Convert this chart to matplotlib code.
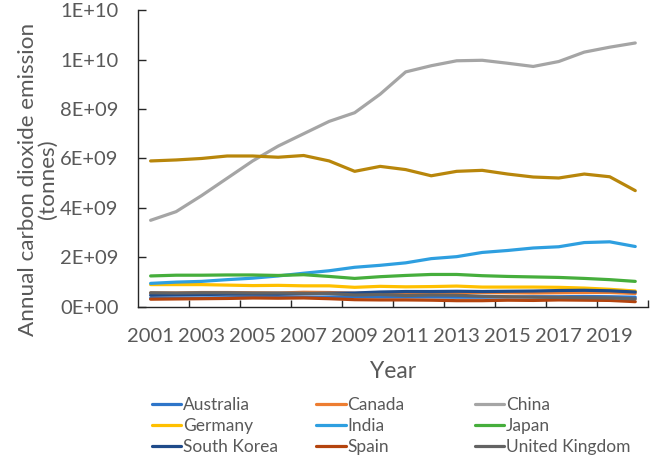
import numpy as np
import matplotlib.pyplot as plt
from matplotlib.ticker import FuncFormatter

plt.rcParams['font.family'] = ['Lato', 'DejaVu Sans']

years = list(range(2001, 2021))

australia = [0.35, 0.36, 0.36, 0.37, 0.38, 0.39, 0.39, 0.40, 0.41, 0.40,
             0.40, 0.40, 0.39, 0.39, 0.40, 0.41, 0.41, 0.42, 0.41, 0.39]
canada = [0.56, 0.56, 0.58, 0.58, 0.57, 0.56, 0.59, 0.58, 0.55, 0.56,
          0.57, 0.57, 0.58, 0.58, 0.57, 0.56, 0.57, 0.58, 0.58, 0.54]
china = [3.50, 3.85, 4.50, 5.20, 5.90, 6.50, 7.00, 7.50, 7.85, 8.60,
         9.50, 9.75, 9.95, 9.97, 9.85, 9.72, 9.92, 10.30, 10.50, 10.67]
germany = [0.90, 0.90, 0.90, 0.88, 0.86, 0.87, 0.85, 0.85, 0.79, 0.83,
           0.81, 0.82, 0.84, 0.80, 0.80, 0.80, 0.79, 0.76, 0.71, 0.64]
india = [0.95, 1.00, 1.03, 1.10, 1.16, 1.25, 1.36, 1.46, 1.60, 1.68,
         1.78, 1.95, 2.03, 2.20, 2.28, 2.38, 2.43, 2.60, 2.63, 2.44]
japan = [1.25, 1.28, 1.28, 1.29, 1.29, 1.27, 1.30, 1.23, 1.15, 1.22,
         1.27, 1.31, 1.31, 1.26, 1.23, 1.21, 1.19, 1.15, 1.10, 1.03]
south_korea = [0.47, 0.49, 0.50, 0.51, 0.51, 0.51, 0.53, 0.55, 0.56, 0.60,
               0.62, 0.62, 0.63, 0.62, 0.63, 0.64, 0.66, 0.67, 0.65, 0.60]
spain = [0.31, 0.32, 0.33, 0.34, 0.36, 0.35, 0.36, 0.33, 0.29, 0.28,
         0.28, 0.27, 0.25, 0.25, 0.27, 0.26, 0.28, 0.27, 0.26, 0.21]
uk = [0.57, 0.56, 0.57, 0.57, 0.56, 0.56, 0.55, 0.54, 0.48, 0.50,
      0.46, 0.48, 0.47, 0.43, 0.41, 0.39, 0.38, 0.37, 0.36, 0.32]
usa = [5.90, 5.94, 6.00, 6.10, 6.10, 6.05, 6.12, 5.90, 5.48, 5.68,
       5.55, 5.30, 5.48, 5.52, 5.37, 5.25, 5.21, 5.37, 5.26, 4.70]

series = [
    ("Australia", australia, "#2E75C9"),
    ("Canada", canada, "#ED7D31"),
    ("China", china, "#A5A5A5"),
    ("Germany", germany, "#FFC000"),
    ("India", india, "#2E9FE0"),
    ("Japan", japan, "#46AE3C"),
    ("South Korea", south_korea, "#1F4B8A"),
    ("Spain", spain, "#B4440E"),
    ("United Kingdom", uk, "#636363"),
    ("United States", usa, "#B8860B"),
]

fig = plt.figure(figsize=(6.66, 4.58), dpi=100)
ax = fig.add_axes([0.207, 0.330, 0.766, 0.648])

lines = {}
for name, vals, col in series:
    ln, = ax.plot(years, np.array(vals) * 1e9, color=col, lw=2.3,
                  solid_capstyle='round', label=name)
    lines[name] = ln

ax.set_xlim(2000.5, 2020.5)
ax.set_ylim(0, 12e9)
ax.set_yticks(np.arange(0, 12.1e9, 2e9))
ax.yaxis.set_major_formatter(FuncFormatter(lambda v, p: "%.0E" % v))
ax.set_xticks(range(2001, 2021, 2))
ax.set_xticks(np.arange(2002.5, 2021, 2), minor=True)

txt = '#595959'
ax.tick_params(axis='x', which='major', length=0, pad=15, labelsize=14.5, labelcolor=txt)
ax.tick_params(axis='x', which='minor', direction='in', length=5, width=1, color='#262626')
ax.tick_params(axis='y', direction='in', length=5.5, width=1, pad=14,
               labelsize=14.5, labelcolor=txt, color='#262626')

for s in ['top', 'right']:
    ax.spines[s].set_visible(False)
for s in ['left', 'bottom']:
    ax.spines[s].set_color('#262626')
    ax.spines[s].set_linewidth(1)

ax.set_xlabel("Year", fontsize=16.5, color=txt, labelpad=12)
ax.set_ylabel("Annual carbon dioxide emission\n(tonnes)", fontsize=16.2,
              color=txt, linespacing=1.0)
ax.yaxis.set_label_coords(-0.157, 0.43)

cols = [["Australia", "Germany", "South Korea"],
        ["Canada", "India", "Spain"],
        ["China", "Japan", "United Kingdom"]]
xpos = [0.228, 0.475, 0.713]
for names, x in zip(cols, xpos):
    leg = fig.legend([lines[n] for n in names], names, loc='upper left',
                     bbox_to_anchor=(x, 0.133), frameon=False,
                     fontsize=12.5, handlelength=1.7, handletextpad=0.1,
                     labelspacing=0.28, borderaxespad=0, borderpad=0)
    for t in leg.get_texts():
        t.set_color(txt)

fig.savefig("out.png", dpi=100)
